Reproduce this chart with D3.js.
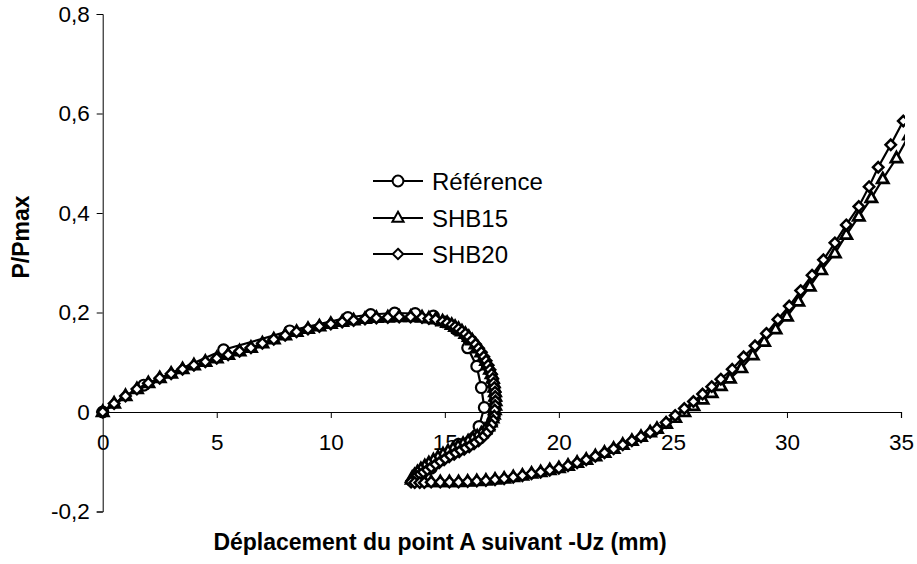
<!DOCTYPE html>
<html><head><meta charset="utf-8">
<script src="https://cdn.jsdelivr.net/npm/d3@7"></script>
<style>body{margin:0;background:#fff}svg{display:block}text{font-family:"Liberation Sans",Arial,sans-serif;fill:#000}</style>
</head><body><svg id="chart" width="917" height="564"></svg>
<script>
const xTicks=[0,5,10,15,20,25,30,35];
const yTicks=[-0.2,0,0.2,0.4,0.6,0.8];
const seriesNames=["Référence","SHB15","SHB20"];
const xTitle="Déplacement du point A suivant -Uz (mm)";
const yTitle="P/Pmax";

const refX=[0,1.8,5.3,8.2,10.75,11.75,12.8,13.7,14.5,15.0,15.5,16.0,16.4,16.6,16.73,16.5,15.6,14.4];
const refY=[0,0.054,0.125,0.163,0.19,0.196,0.199,0.198,0.193,0.181,0.166,0.129,0.092,0.049,0.009,-0.029,-0.065,-0.113];

// rising branch (shared by SHB15 and SHB20)
const shbRiseX=[0,0.5,1,1.5,2,2.5,3,3.5,4,4.5,5,5.5,6,6.5,7,7.5,8,8.5,9,9.5,10,10.5,11,11.5,12,12.5,13,13.5,14];
const shbRiseY=[0,0.017,0.032,0.046,0.058,0.068,0.077,0.086,0.094,0.101,0.108,0.115,0.122,0.129,0.138,0.146,0.154,0.161,0.167,0.172,0.177,0.181,0.184,0.187,0.189,0.19,0.191,0.191,0.19];
// snap-back loop, upper/right part (shared)
const shbArcX=[14.3,14.6,14.9,15.1,15.3,15.45,15.6,15.75,15.9,16.05,16.2,16.35,16.48,16.6,16.71,16.81,16.9,16.98,17.05,17.1,17.14,17.17,17.2,17.21,17.22,17.21,17.19];
const shbArcY=[0.188,0.186,0.182,0.179,0.175,0.171,0.167,0.162,0.157,0.151,0.144,0.136,0.128,0.12,0.111,0.103,0.094,0.085,0.076,0.067,0.058,0.049,0.04,0.031,0.022,0.013,0.004];
// snap-back loop, lower part
const shb15BackX=[17.15,17.09,17.01,16.9,16.76,16.6,16.42,16.22,16.02,15.8,15.58,15.36,15.14,14.92,14.7,14.5,14.3,14.12,13.95,13.8,13.67,13.57,13.55,13.7,13.9,14.1];
const shb15BackY=[-0.005,-0.013,-0.021,-0.029,-0.036,-0.043,-0.049,-0.054,-0.059,-0.064,-0.069,-0.074,-0.079,-0.085,-0.091,-0.097,-0.103,-0.109,-0.115,-0.121,-0.127,-0.132,-0.136,-0.138,-0.139,-0.14];
const shb20BackX=[17.17,17.12,17.05,16.95,16.82,16.66,16.48,16.28,16.07,15.85,15.63,15.41,15.19,14.97,14.75,14.54,14.34,14.15,13.97,13.8,13.66,13.55,13.52,13.68,13.9,14.1];
const shb20BackY=[-0.008,-0.017,-0.026,-0.035,-0.043,-0.051,-0.058,-0.064,-0.07,-0.075,-0.08,-0.085,-0.09,-0.096,-0.102,-0.108,-0.114,-0.12,-0.125,-0.13,-0.134,-0.138,-0.141,-0.142,-0.142,-0.142];
// lower branch (shared)
const shbLowX=[14.4,14.8,15.2,15.6,16.0,16.4,16.8,17.2,17.6,18.0,18.4,18.8,19.2,19.6,20.0,20.4,20.8,21.2,21.6,22.0,22.4,22.8,23.2,23.6,24.0,24.3];
const shbLowY=[-0.141,-0.141,-0.141,-0.141,-0.14,-0.139,-0.138,-0.136,-0.134,-0.131,-0.128,-0.124,-0.121,-0.117,-0.113,-0.108,-0.102,-0.096,-0.089,-0.082,-0.074,-0.066,-0.058,-0.05,-0.041,-0.034];

const shb15TailX=[24.7,25.1,25.5,25.9,26.3,26.7,27.1,27.5,28.0,28.5,29.0,29.5,30.0,30.5,31.0,31.5,32.1,32.6,33.15,33.7,34.2,34.8,35.35];
const shb15TailY=[-0.024,-0.012,0.0,0.012,0.025,0.038,0.052,0.067,0.088,0.114,0.141,0.166,0.192,0.222,0.252,0.285,0.319,0.356,0.393,0.43,0.468,0.51,0.556];
const shb20TailX=[24.7,25.1,25.5,25.9,26.3,26.7,27.1,27.6,28.1,28.6,29.1,29.6,30.1,30.6,31.1,31.6,32.1,32.6,33.15,33.6,34.0,34.55,35.1];
const shb20TailY=[-0.021,-0.007,0.007,0.021,0.036,0.051,0.066,0.086,0.111,0.133,0.158,0.186,0.213,0.244,0.275,0.306,0.34,0.376,0.413,0.453,0.492,0.537,0.585];

const svg=d3.select("#chart");
const x=d3.scaleLinear().domain([0,35]).range([102.7,901]);
const y=d3.scaleLinear().domain([-0.2,0.8]).range([511.5,14]);
const fmt=v=>String(+v.toFixed(1)).replace(".",",");

const zip=(xs,ys)=>xs.map((v,i)=>[v,ys[i]]);
const data=[
 zip(refX,refY),
 zip(shbRiseX.concat(shbArcX,shb15BackX,shbLowX,shb15TailX),shbRiseY.concat(shbArcY,shb15BackY,shbLowY,shb15TailY)),
 zip(shbRiseX.concat(shbArcX,shb20BackX,shbLowX,shb20TailX),shbRiseY.concat(shbArcY,shb20BackY,shbLowY,shb20TailY))
];

// axes
const yAxis=d3.axisLeft(y).tickValues(yTicks).tickSize(6).tickFormat(fmt);
const gy=svg.append("g").attr("transform",`translate(${x(0)},0)`).call(yAxis);
gy.select(".domain").attr("stroke","#000").attr("stroke-width",1);
gy.selectAll(".tick line").attr("stroke","#000");
gy.selectAll(".tick text").attr("font-size",22.5).attr("x",-13).attr("font-family","Liberation Sans, Arial, sans-serif");

const xAxis=d3.axisBottom(x).tickValues(xTicks).tickSize(6).tickSizeOuter(6).tickFormat(fmt);
const gx=svg.append("g").attr("transform",`translate(0,${y(0)})`).call(xAxis);
gx.select(".domain").attr("stroke","#000").attr("stroke-width",1.2);
gx.selectAll(".tick line").attr("stroke","#000");
gx.selectAll(".tick text").attr("font-size",22.5).attr("y",22).attr("font-family","Liberation Sans, Arial, sans-serif");

// titles
svg.append("text").attr("x",440).attr("y",550).attr("text-anchor","middle")
 .attr("font-size",23).attr("font-weight","bold").text(xTitle);
svg.append("text").attr("transform","translate(29,237) rotate(-90)").attr("text-anchor","middle")
 .attr("font-size",23).attr("font-weight","bold").text(yTitle);

// clip
svg.append("clipPath").attr("id","plotclip").append("rect")
 .attr("x",x(0)-8).attr("y",y(0.8)).attr("width",x(35)-x(0)+12).attr("height",y(-0.2)-y(0.8));

const markers=[
 g=>g.append("circle").attr("r",5.4).attr("stroke-width",2.2),
 g=>g.append("path").attr("d","M0,-6.2L5.6,3.8L-5.6,3.8Z").attr("stroke-width",2.7),
 g=>g.append("path").attr("d","M0,-5.2L5.2,0L0,5.2L-5.2,0Z").attr("stroke-width",2.5)
];
const line=d3.line().x(d=>x(d[0])).y(d=>y(d[1]));
const plot=svg.append("g").attr("clip-path","url(#plotclip)");
data.forEach((pts,i)=>{
 const g=plot.append("g");
 g.append("path").datum(pts).attr("d",line).attr("fill","none").attr("stroke","#000").attr("stroke-width",2.2);
 g.selectAll("g.m").data(pts).join("g").attr("class","m")
  .attr("transform",d=>`translate(${x(d[0])},${y(d[1])})`)
  .each(function(){markers[i](d3.select(this)).attr("fill","#fff").attr("stroke","#000");});
});

// legend
const legY=[181,218,254];
seriesNames.forEach((n,i)=>{
 const g=svg.append("g").attr("transform",`translate(0,${legY[i]})`);
 g.append("line").attr("x1",373).attr("x2",423).attr("y1",0).attr("y2",0).attr("stroke","#000").attr("stroke-width",2);
 const m=g.append("g").attr("transform","translate(398,0)");
 markers[i](m).attr("fill","#fff").attr("stroke","#000").attr("stroke-width",2);
 g.append("text").attr("x",432).attr("y",8.5).attr("font-size",24).text(n);
});
</script></body></html>
